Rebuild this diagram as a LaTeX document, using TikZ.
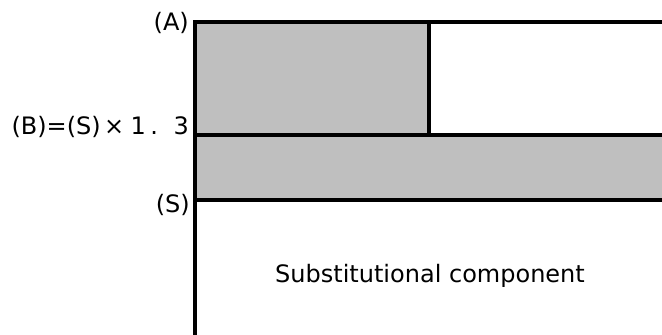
\documentclass[tikz,border=0pt]{standalone}
\usepackage{fontspec}
\setmainfont{DejaVu Sans}
\begin{document}
\begin{tikzpicture}[x=1pt,y=1pt,
  lbl/.style={anchor=base east,inner sep=0pt,font=\fontsize{24}{28}\selectfont},
  body/.style={anchor=base,inner sep=0pt,font=\fontsize{24}{28}\selectfont},
  edge/.style={line width=3.2pt,line cap=rect}]
\useasboundingbox (0,0) rectangle (662,335);
\fill[fill=black!25] (195,313) rectangle (429,200);
\fill[fill=black!25] (195,200) rectangle (662,135);
\draw[edge] (662,313) -- (195,313) -- (195,0);
\draw[edge] (429,313) -- (429,200);
\draw[edge] (195,200) -- (662,200);
\draw[edge] (195,135) -- (662,135);
\node[lbl] (a) at (189,304) {(A)};
\node[lbl] (b) at (189,200) {(B)=(S)\makebox[27pt]{×}\makebox[21pt]{1}\makebox[11pt]{.}\makebox[29pt][r]{3}};
\node[lbl] (s) at (190,122) {(S)};
\node[body] (c) at (430,52) {Substitutional component};
\end{tikzpicture}
\end{document}
